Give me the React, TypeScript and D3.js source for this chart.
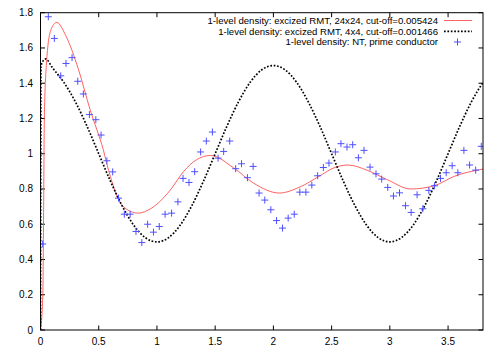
import * as d3 from 'd3';

// 1-level density, excized RMT 24x24 (red line)
const rmt24X = [0, 0.02, 0.027, 0.033, 0.05, 0.088, 0.14, 0.217, 0.325, 0.426, 0.54, 0.585, 0.71, 0.84, 0.95, 1.11, 1.23, 1.34, 1.46, 1.66, 1.83, 2.05, 2.23, 2.39, 2.52, 2.64, 2.81, 2.98, 3.18, 3.38, 3.55, 3.8];
const rmt24Y = [0, 0.2, 0.7, 1.2, 1.5, 1.7, 1.745, 1.67, 1.48, 1.25, 1.02, 0.905, 0.7, 0.663, 0.69, 0.79, 0.9, 0.966, 0.99, 0.919, 0.833, 0.777, 0.812, 0.871, 0.92, 0.936, 0.905, 0.852, 0.8, 0.818, 0.871, 0.913];

// 1-level density, excized RMT 4x4 (black dotted)
const rmt4X = [0, 0.004, 0.045, 0.1, 0.2, 0.3, 0.4, 0.5, 0.6, 0.7, 0.8, 0.9, 1.0, 1.1, 1.2, 1.3, 1.4, 1.5, 1.6, 1.7, 1.8, 1.9, 2.0, 2.1, 2.2, 2.3, 2.4, 2.5, 2.6, 2.7, 2.8, 2.9, 3.0, 3.1, 3.2, 3.3, 3.4, 3.5, 3.6, 3.7, 3.8];
const rmt4Y = [0, 1.5, 1.538, 1.49, 1.405, 1.294, 1.155, 1.0, 0.845, 0.706, 0.595, 0.524, 0.5, 0.524, 0.595, 0.706, 0.845, 1.0, 1.155, 1.294, 1.405, 1.476, 1.5, 1.476, 1.405, 1.294, 1.155, 1.0, 0.845, 0.706, 0.595, 0.524, 0.5, 0.524, 0.595, 0.706, 0.845, 1.0, 1.155, 1.294, 1.405];

// NT, prime conductor (blue +)
const ntX = [0.019, 0.067, 0.119, 0.174, 0.219, 0.271, 0.32, 0.368, 0.42, 0.475, 0.52, 0.57, 0.62, 0.67, 0.72, 0.77, 0.82, 0.87, 0.92, 0.97, 1.02, 1.07, 1.126, 1.18, 1.224, 1.275, 1.324, 1.375, 1.424, 1.476, 1.525, 1.573, 1.625, 1.676, 1.726, 1.777, 1.826, 1.877, 1.926, 1.978, 2.027, 2.078, 2.127, 2.179, 2.227, 2.279, 2.33, 2.38, 2.429, 2.477, 2.532, 2.58, 2.632, 2.681, 2.73, 2.778, 2.83, 2.881, 2.93, 2.982, 3.031, 3.083, 3.134, 3.183, 3.234, 3.283, 3.335, 3.384, 3.435, 3.484, 3.535, 3.584, 3.636, 3.685, 3.737, 3.785];
const ntY = [0.488, 1.777, 1.654, 1.442, 1.512, 1.545, 1.411, 1.339, 1.222, 1.193, 1.106, 0.96, 0.897, 0.748, 0.657, 0.657, 0.559, 0.496, 0.6, 0.555, 0.587, 0.657, 0.663, 0.727, 0.86, 0.837, 0.898, 1.01, 1.072, 1.123, 0.975, 1.013, 1.072, 0.915, 0.943, 0.864, 0.928, 0.777, 0.737, 0.682, 0.621, 0.578, 0.635, 0.657, 0.782, 0.782, 0.822, 0.875, 0.922, 0.947, 1.01, 1.057, 1.038, 1.051, 0.977, 1.019, 0.924, 0.886, 0.856, 0.809, 0.76, 0.778, 0.705, 0.667, 0.767, 0.688, 0.792, 0.818, 0.86, 0.892, 0.932, 0.892, 1.019, 0.936, 0.907, 1.042];

const xTicks = [0, 0.5, 1, 1.5, 2, 2.5, 3, 3.5];
const yTicks = [0, 0.2, 0.4, 0.6, 0.8, 1, 1.2, 1.4, 1.6, 1.8];

const legendLabels = [
  '1-level density: excized RMT, 24x24, cut-off=0.005424',
  '1-level density: excized RMT, 4x4, cut-off=0.001466',
  '1-level density: NT, prime conductor',
];

const font = '"Liberation Sans", Arial, sans-serif';
const red = '#ff5050';
const blue = '#4f4fff';

export default function App() {
  const left = 40.5, right = 483, top = 12.7, bottom = 330;
  const x = d3.scaleLinear().domain([0, 3.8]).range([left, right]);
  const y = d3.scaleLinear().domain([0, 1.8]).range([bottom, top]);

  const line = d3.line<[number, number]>()
    .x(d => x(d[0]))
    .y(d => y(d[1]))
    .curve(d3.curveMonotoneX);

  const redPath = line(rmt24X.map((v, i) => [v, rmt24Y[i]]) as [number, number][]) || '';
  const blackPath = line(rmt4X.map((v, i) => [v, rmt4Y[i]]) as [number, number][]) || '';

  const tickLen = 4.5;
  const legX = 438;
  const legY = [20.5, 31.3, 42];

  const plus = (cx: number, cy: number, k: string) => (
    <path key={k} d={`M${cx - 3.5},${cy}H${cx + 3.5}M${cx},${cy - 3.5}V${cy + 3.5}`} stroke={blue} strokeWidth={1} fill="none" />
  );

  return (
    <svg width={500} height={350} style={{ position: 'absolute', left: 0, top: 0, background: '#fff' }}>
      <defs>
        <clipPath id="plot">
          <rect x={left} y={top} width={right - left} height={bottom - top} />
        </clipPath>
      </defs>
      {/* ticks, mirrored on all four sides */}
      <g stroke="#000" strokeWidth={1}>
        {xTicks.map(t => (
          <g key={'xt' + t}>
            <line x1={x(t)} x2={x(t)} y1={bottom} y2={bottom - tickLen} />
            <line x1={x(t)} x2={x(t)} y1={top} y2={top + tickLen} />
          </g>
        ))}
        {yTicks.map(t => (
          <g key={'yt' + t}>
            <line x1={left} x2={left + tickLen} y1={y(t)} y2={y(t)} />
            <line x1={right} x2={right - tickLen} y1={y(t)} y2={y(t)} />
          </g>
        ))}
      </g>
      <g fontFamily={font} fontSize={10} fill="#000">
        {xTicks.map(t => (
          <text key={'xl' + t} x={x(t)} y={345} textAnchor="middle">{String(t)}</text>
        ))}
        {yTicks.map(t => (
          <text key={'yl' + t} x={33} y={y(t)} dy="0.35em" textAnchor="end">{String(t)}</text>
        ))}
      </g>
      <g clipPath="url(#plot)">
        <path d={redPath} stroke={red} strokeWidth={0.9} fill="none" />
        <path d={blackPath} stroke="#000" strokeWidth={1.7} strokeDasharray="1.7,1.7" fill="none" />
        {ntX.map((v, i) => plus(x(v), y(ntY[i]), 'p' + i))}
      </g>
      {/* legend */}
      <g fontFamily={font} fontSize={9.6} fill="#000">
        {legendLabels.map((s, i) => (
          <text key={'lg' + i} x={legX} y={legY[i]} dy="0.35em" textAnchor="end">{s}</text>
        ))}
      </g>
      <line x1={444} x2={472} y1={legY[0]} y2={legY[0]} stroke={red} strokeWidth={0.9} />
      <line x1={444} x2={472} y1={legY[1]} y2={legY[1]} stroke="#000" strokeWidth={1.7} strokeDasharray="1.7,1.7" />
      {plus(457.5, legY[2], 'legp')}
      <rect x={left} y={top} width={right - left} height={bottom - top} fill="none" stroke="#000" strokeWidth={1} />
    </svg>
  );
}
